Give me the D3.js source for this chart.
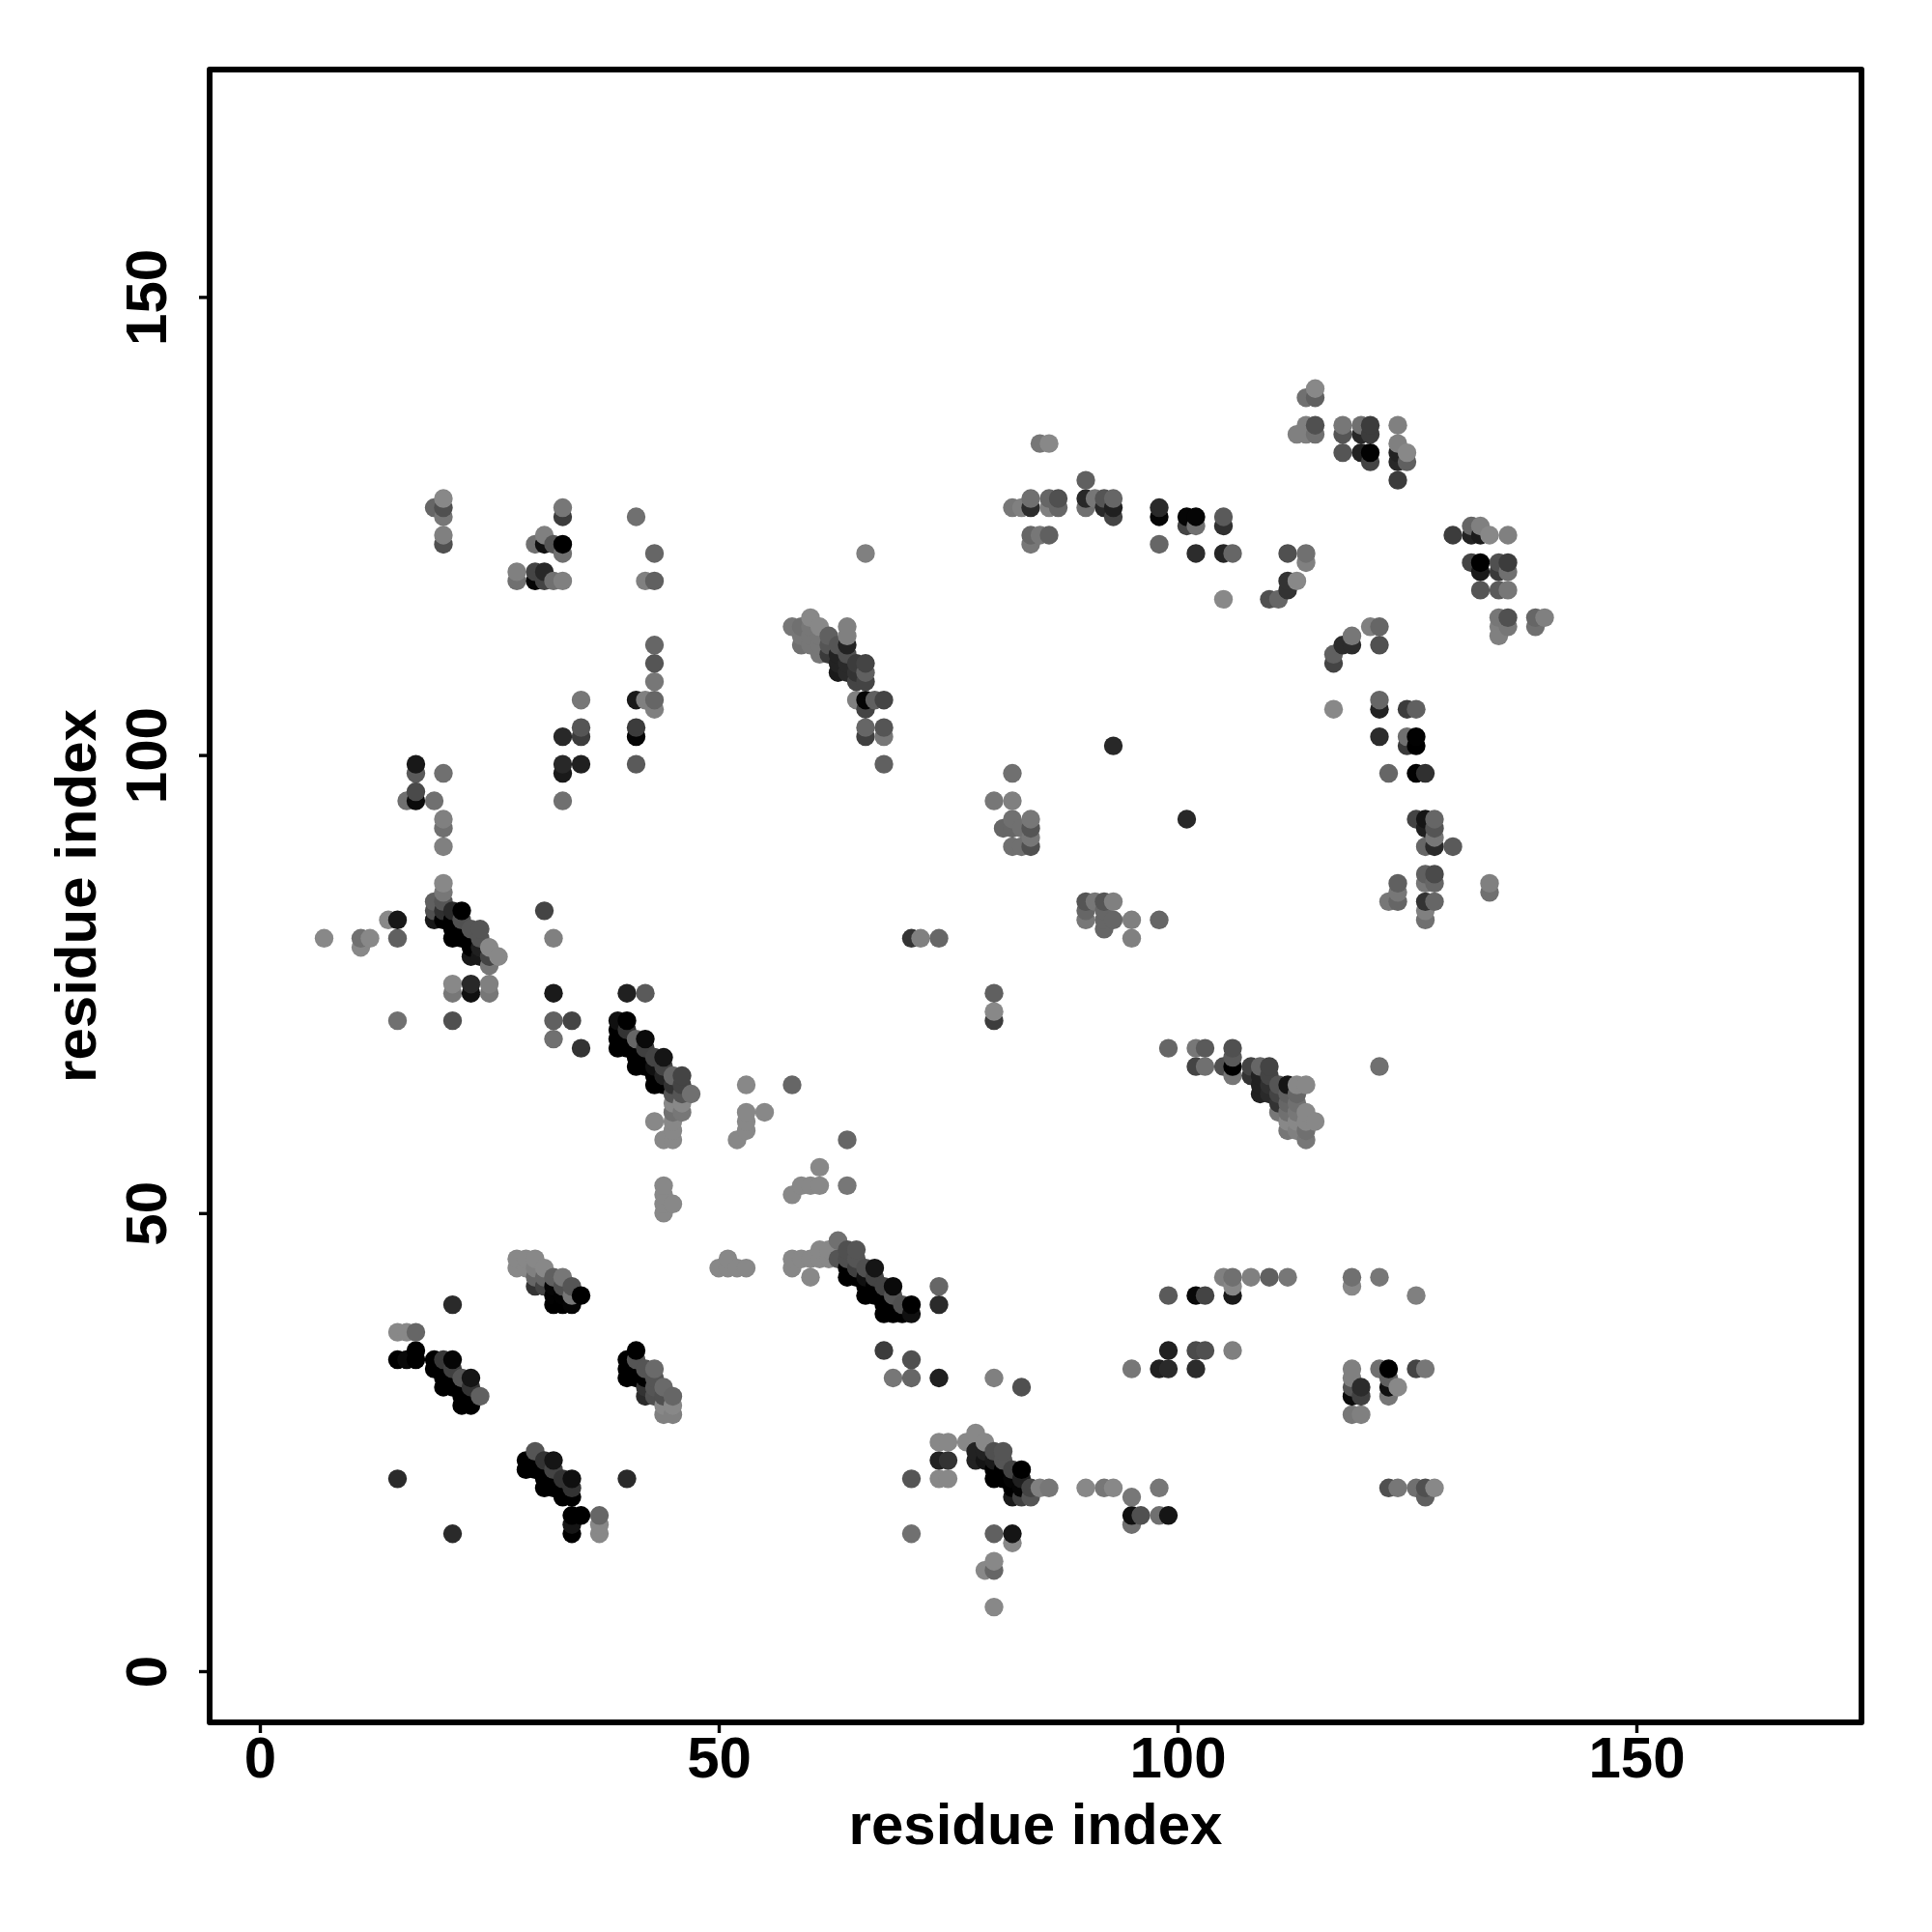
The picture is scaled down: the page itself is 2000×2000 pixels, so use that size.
<!DOCTYPE html>
<html><head><meta charset="utf-8">
<script src="https://cdnjs.cloudflare.com/ajax/libs/d3/7.8.5/d3.min.js"></script>
<style>html,body{margin:0;padding:0;background:#fff}svg{display:block}</style>
</head><body><div id="chart"></div>
<script>
const xTicks=[0,50,100,150];
const yTicks=[0,50,100,150];
const xTitle="residue index";
const yTitle="residue index";
// [residue i, residue j, shade value: 0 = strongest contact, 136 = weakest]
const L=0x88;
const blockLowLeft=[
[21,40,0x2a],[28,45,L],[29,45,L],[30,45,L],[28,44,L],[29,44,L],[30,44,0x80],[31,44,L],[30,43,0x66],[31,43,0x66],[32,43,0x60],[33,43,0x77],
[30,42,0x33],[31,42,0x44],[32,42,0x05],[33,42,0x50],[34,42,0x55],[32,41,0x02],[33,41,0x02],[34,41,0x77],[35,41,0x00],[32,40,0],[33,40,0],[34,40,0x05],
[15,37,L],[16,37,L],[17,37,0x66],[15,34,0],[16,34,0x0a],[17,34,0],[17,35,0],
[19,34,0],[20,34,0x38],[21,34,0x05],[19,33,0],[20,33,0],[21,33,0x40],[20,32,0],[21,32,0],[22,32,0x55],[23,32,0x15],[20,31,0],[21,31,0],[22,31,0],[23,31,0x33],[22,30,0],[23,30,0],[24,30,0x60],[22,29,0],[23,29,0],
[41,35,0],[40,34,0],[41,34,0x55],[40,33,0],[41,33,0],[42,33,0x55],[43,33,0x6a],[40,32,0],[41,32,0],[42,32,0],[43,32,0x55],[42,31,0x33],[43,31,0x55],[44,31,0x6a],[42,30,0x2a],[43,30,0x50],[44,30,0x50],[45,30,0x66],[44,29,L],[45,29,L],[44,28,0x80],[45,28,0x80],
[30,24,0x55],[29,23,0],[30,23,0],[31,23,0x33],[32,23,0x15],[29,22,0],[30,22,0],[31,22,0],[32,22,0x44],[31,21,0],[32,21,0],[33,21,0x33],[34,21,0x0f],[31,20,0],[32,20,0],[33,20,0],[34,20,0x33],[33,19,0],[34,19,0],
[34,17,0],[35,17,0],[34,16,0x15],[34,15,0],[37,17,0x66],[37,16,L],[37,15,L],[15,21,0x2a],[40,21,0x2a],[21,15,0x2a]
];
const blockLowMiddle=[
[44,50,L],[44,51,L],[45,51,L],[44,52,L],[44,53,L],[51,45,L],[50,44,L],[51,44,L],[52,44,L],[53,44,L],
[58,45,L],[59,45,L],[60,45,L],[58,44,L],[60,43,L],[61,46,L],[62,46,L],[61,45,L],[62,45,L],[63,47,0x70],[63,45,0x55],[64,46,0x50],[65,46,0x55],[64,45,0x50],[65,45,0x55],
[64,44,0],[65,44,0x40],[66,44,0x50],[67,44,0x15],[64,43,0],[65,43,0],[66,43,0x10],[67,43,0x44],[66,42,0],[67,42,0],[68,42,0x44],[69,42,0x0a],[66,41,0],[67,41,0],[68,41,0],[69,41,0x55],[68,40,0],[69,40,0],[70,40,0x50],[71,40,0],[68,39,0],[69,39,0],[70,39,0],[71,39,0x10],
[74,42,0x66],[74,40,0x2a],[68,35,0x3c],[71,34,0x50],[69,32,0x77],[71,32,0x66],[74,32,0x20],[80,32,0x80],[83,31,0x50],
[74,25,L],[75,25,L],[77,25,L],[78,26,L],[79,25,L],[74,23,0x22],[75,23,0x33],[74,21,L],[75,21,L],[71,21,0x55],[78,24,0x22],[79,24,0x22],[80,24,0x50],[81,24,0x55],[78,23,0x22],[79,23,0x15],[80,23,0x1a],[81,23,0x55],[80,22,0],[81,22,0],[82,22,0x44],[83,22,0],[80,21,0],[81,21,0],[82,21,0x05],[83,21,0x20],[82,20,0],[83,20,0x05],[84,20,0x44],[85,20,0x80],[86,20,0x77],[82,19,0x1a],[83,19,0x40],[84,19,0x55],
[90,20,L],[92,20,0x77],[93,20,L],[95,19,0x77],[98,20,0x77],[95,17,0x10],[96,17,0x50],[98,17,0x70],[99,17,0x15],[95,16,0x70],
[71,15,0x70],[80,15,0x60],[82,15,0x15],[82,14,L],[80,12,L],[79,11,L],[80,11,0x66],[80,7,L]
];
const blockLowRight=[
[105,43,0x80],[106,43,0x70],[108,43,0x80],[110,43,0x60],[112,43,0x77],[119,43,0x70],[119,42,L],[122,43,0x77],[126,41,0x80],[106,42,L],[106,41,0x1a],[99,41,0x5a],[102,41,0x08],[103,41,0x44],
[99,35,0x20],[102,35,0x4a],[103,35,0x50],[106,35,0x80],[95,33,0x77],[98,33,0x20],[99,33,0x2a],[102,33,0x2c],
[119,33,0x80],[119,32,0x80],[119,31,0x55],[120,31,0x2c],[119,30,0x0a],[120,30,0x40],[119,28,0x77],[120,28,0x80],[122,33,0x70],[123,33,0],[123,32,0x60],[123,31,0x10],[124,31,L],[123,30,0x77],[126,33,0x44],[127,33,0x77],
[123,20,0x50],[124,20,0x77],[126,20,0x70],[127,20,0x50],[128,20,L],[127,19,0x60]
];
const blockMidLeft=[
[7,80,L],[11,80,0x70],[12,80,L],[11,79,L],[14,82,L],[15,82,0x18],[15,80,0x60],
[20,86,L],[20,85,0x77],[19,84,0x60],[20,84,0x55],[19,83,0x50],[20,83,0x30],[21,83,0x2a],[22,83,0],[19,82,0x18],[20,82,0],[21,82,0],[22,82,0x50],[21,81,0],[22,81,0],[23,81,0x55],[24,81,0x55],[21,80,0],[22,80,0],[23,80,0],[24,80,0x55],
[25,79,L],[23,79,0],[24,79,0x20],[23,78,0x18],[24,78,0x18],[25,78,0x44],[26,78,L],[25,77,0x77],
[21,75,L],[21,74,0x77],[23,75,0x28],[23,74,0x10],[25,75,0x80],[25,74,0x77],[15,71,0x70],[21,71,0x50],
[31,83,0x44],[32,80,0x80],[32,74,0x1a],[32,71,0x60],[34,71,0x44],[32,69,0x70],[35,68,0x33],[40,74,0x20],[42,74,0x5a],
[39,71,0x10],[40,71,0],[39,70,0],[40,70,0x33],[41,69,0x66],[42,69,0x0a],[39,69,0],[40,69,0],[39,68,0],[40,68,0],[41,68,0],[42,68,0x40],[41,67,0],[42,67,0],[43,67,0x44],[44,67,0x15],[41,66,0],[42,66,0],[43,66,0x10],[44,66,0x44],[43,65,0],[44,65,0x22],[45,65,0x66],[46,65,0x44],[43,64,0],[44,64,0],[45,64,0x33],[46,64,0x44],[45,63,0x55],[46,63,0x55],[47,63,0x70],
[45,62,L],[46,62,L],[45,61,0x70],[46,61,0x77],[43,60,L],[45,60,L],[45,59,L],[44,58,L],[45,58,L],
[53,64,L],[53,61,L],[53,60,L],[53,59,L],[52,58,L],[55,61,L],[58,64,0x66],[58,52,L],[59,53,L],[60,53,L],[61,53,L],[61,55,L],[64,53,0x77],[64,58,0x66]
];
const blockMidRight=[
[80,74,0x60],[80,72,L],[80,71,0x3c],[99,68,0x66],[102,68,0x77],[103,68,0x5a],[106,68,0x50],[106,67,0x5a],[102,66,0x44],[103,66,0x70],[105,66,0x50],[106,66,0],[106,65,0x77],
[108,66,0x44],[109,66,0x66],[110,66,0x44],[108,65,0x33],[109,65,0x22],[110,65,0x44],[109,64,0x22],[110,64,0x30],[111,64,0x55],[112,64,0x15],[113,64,L],[114,64,L],[109,63,0x22],[110,63,0x2a],[111,63,0x44],[112,63,0x60],[113,63,0x66],
[111,62,0x33],[112,62,0x66],[113,62,0x70],[111,61,0x77],[112,61,0x70],[113,61,0x77],[114,61,L],[112,60,L],[113,60,L],[114,60,L],[115,60,L],[112,59,0x77],[113,59,0x80],[114,59,0x70],[114,58,0x77],[122,66,0x70],
[71,80,0x33],[72,80,0x80],[74,80,0x66]
];
const blockUpLeft=[
[20,128,L],[19,127,0x66],[20,127,0x50],[20,126,0x77],[20,124,0x80],[20,123,0x50],[33,127,0x77],[33,126,0x3c],[31,124,0x80],[30,123,0x70],[31,123,0x10],[32,123,0x55],[33,123,0],[33,122,0x70],
[28,120,0x80],[28,119,0x70],[30,120,0x44],[31,120,0x28],[30,119,0x05],[31,119,0x44],[32,119,0x70],[33,119,0x80],[41,126,0x70],[43,122,0x66],[42,119,0x80],[43,119,0x60],
[43,112,0x66],[43,110,0x55],[43,108,0x77],[43,106,0x66],[43,105,0x80],[42,106,0x80],[41,106,0x1a],[35,106,0x77],[35,103,0x55],[35,102,0x3c],[33,102,0x28],[33,99,0x28],[33,98,0x1a],[35,99,0x20],[33,95,0x70],[41,103,0x3c],[41,102,0x05],[41,99,0x5a],
[17,99,0x18],[17,98,0x5a],[20,98,0x70],[17,96,0x4a],[17,95,0x0a],[16,95,0x70],[19,95,0x70],[20,93,0x80],[20,92,0x70],[20,90,0x80]
];
const blockUpMiddle=[
[66,122,0x80],[60,115,L],[58,114,0x77],[59,114,0x70],[60,114,0x77],[61,114,L],[64,114,0x80],[59,113,0x77],[60,113,0x77],[61,113,0x77],[62,113,0x60],[64,113,0x80],[59,112,0x70],[60,112,0x77],[61,112,0x77],[62,112,0x55],[63,112,0x55],[64,112,0x22],[61,111,0x77],[62,111,0x3a],[63,111,0x22],[64,111,0x50],[65,110,0x3c],[66,110,0x44],[63,110,0x22],[64,110,0x2a],[63,109,0x1a],[64,109,0x2a],[65,109,0x33],[66,109,0x60],[65,108,0x44],[66,108,0x44],
[65,106,0x80],[66,106,0x05],[67,106,0x60],[68,106,0x44],[66,105,0x44],[66,103,0x66],[68,103,0x55],[66,102,0x40],[68,102,0x77],[68,99,0x60],
[84,124,0x66],[85,124,0x77],[86,124,0x60],[84,123,0x77],[93,101,0x28],[82,98,0x70],[80,95,0x77],[82,95,0x80],[82,93,0x70],[84,93,0x77],[81,92,0x66],[82,92,0x66],[83,92,0x70],[84,92,0x55],[84,91,0x77],[82,90,0x70],[83,90,0x70],[84,90,0x50],[101,93,0x28],
[90,84,0x55],[91,84,0x77],[92,84,0x55],[93,84,0x80],[90,83,0x66],[90,82,0x77],[92,83,0x66],[92,82,0x66],[93,82,0x66],[95,82,0x80],[98,82,0x66],[92,81,0x66],[95,80,0x80]
];
const blockUpRight=[
[85,134,0x77],[86,134,L],[90,130,0x60],[82,127,0x77],[83,127,0x80],[84,128,0x70],[84,127,0x2c],[86,128,0x66],[87,128,0x50],[86,127,0x80],[87,127,0x66],[90,128,0x28],[91,128,0x77],[90,127,0x70],[92,128,0x55],[93,128,0x66],[92,127,0x28],[93,127,0x20],[93,126,0x44],
[98,127,0x2a],[98,126,0x05],[98,123,0x66],[101,126,0x05],[102,126,0x05],[101,125,0x44],[102,125,0x70],[105,126,0x5a],[105,125,0x30],[102,122,0x2c],[105,122,0x25],[106,122,0x66],[105,117,L],
[112,122,0x50],[114,122,0x70],[114,121,0x80],[112,119,0x33],[113,119,L],[112,118,0x33],[110,117,0x50],[111,117,0x66],
[115,140,L],[114,139,0x70],[115,139,0x60],[114,136,0x80],[115,136,0x50],[113,135,0x80],[114,135,0x80],[115,135,0x70],[118,136,0x77],[118,135,0x55],[118,133,0x55],[120,136,0x70],[121,136,0x3c],[120,135,0x28],[121,135,0x3c],[120,133,0x22],[121,133,0x02],[121,132,0x44],
[124,136,0x80],[124,134,0x80],[125,133,L],[124,133,0x22],[124,132,0x28],[125,132,0x60],[124,130,0x3c],
[130,124,0x3c],[132,125,0x66],[133,125,0x80],[132,124,0x22],[133,124,0x1a],[134,124,L],[136,124,0x80],[132,121,0x44],[133,121,0],[133,120,0x1a],[135,121,0x50],[136,121,0x3c],[135,120,0x3a],[136,120,0x70],[133,118,0x55],[135,118,0x5a],[136,118,0x77],
[135,115,0x77],[136,115,0x50],[136,114,0x77],[135,114,0x80],[135,113,0x80],[139,115,0x66],[140,115,0x80],[139,114,0x70],
[121,114,0x80],[122,114,0x66],[122,112,0x50],[119,113,0x77],[118,112,0x2c],[119,112,0x2c],[117,111,0x60],[117,110,0x44],
[117,105,L],[122,106,0x66],[122,105,0x22],[125,105,0x3c],[126,105,0x60],[122,102,0x2c],[125,102,0x70],[126,102,0x02],[125,101,0x3a],[126,101,0],[123,98,0x66],[126,98,0x02],[127,98,0x30],
[126,93,0x44],[127,93,0x15],[128,93,0x66],[127,92,0x1f],[128,92,0x55],[128,91,0x77],[127,90,0x66],[128,90,0x2a],[130,90,0x5a],[127,87,0x60],[128,87,0x4a],[127,86,0x77],[128,86,0x66],
[124,86,0x60],[124,85,0x77],[123,84,0x77],[124,84,0x66],[127,84,0x33],[128,84,0x66],[127,83,0x80],[127,82,0x70],[134,86,0x80],[134,85,0x70]
];
const contacts=[].concat(blockLowLeft,blockLowMiddle,blockLowRight,blockMidLeft,blockMidRight,blockUpLeft,blockUpMiddle,blockUpRight)
  .sort((a,b)=>d3.ascending(a[0],b[0])||d3.ascending(a[1],b[1]));

const W=2000,H=2000,box={l:217,r:1927,t:72,b:1783};
const x=d3.scaleLinear().domain([0,150]).range([269,1694]);
const y=d3.scaleLinear().domain([0,150]).range([1730,307.4]);
const shade=d3.scaleLinear().domain([0,136]).range(["#000000","#888888"]);
const font='"Liberation Sans",Arial,sans-serif';
const fontSize=60;
const svg=d3.select("#chart").append("svg").attr("width",W).attr("height",H);
svg.append("rect").attr("width",W).attr("height",H).attr("fill","#fff");

svg.append("g").selectAll("circle").data(contacts).join("circle")
  .attr("cx",d=>x(d[0])).attr("cy",d=>y(d[1])).attr("r",9.7)
  .attr("fill",d=>shade(d[2]));

svg.append("rect").attr("x",box.l).attr("y",box.t).attr("width",box.r-box.l).attr("height",box.b-box.t)
  .attr("fill","none").attr("stroke","#000").attr("stroke-width",6).attr("stroke-linejoin","round");

const gx=svg.append("g").attr("transform",`translate(0,${box.b})`)
  .call(d3.axisBottom(x).tickValues(xTicks).tickSize(11).tickPadding(0).tickFormat(d3.format("d")));
const gy=svg.append("g").attr("transform",`translate(${box.l},0)`)
  .call(d3.axisLeft(y).tickValues(yTicks).tickSize(11).tickPadding(0).tickFormat(d3.format("d")));
gx.select(".domain").remove();gy.select(".domain").remove();
svg.selectAll(".tick line").attr("stroke","#000").attr("stroke-width",3.4);
gx.selectAll("text").attr("y",57).attr("dy",null).attr("font-family",font).attr("font-weight",700).attr("font-size",fontSize).attr("fill","#000");
gy.selectAll(".tick text").attr("x",null).attr("y",null).attr("dy",null).attr("text-anchor","middle")
  .attr("transform","translate(-45,0) rotate(-90)")
  .attr("font-family",font).attr("font-weight",700).attr("font-size",fontSize).attr("fill","#000");

svg.append("text").attr("x",(box.l+box.r)/2).attr("y",1909).attr("text-anchor","middle")
  .attr("font-family",font).attr("font-weight",700).attr("font-size",fontSize).text(xTitle);
svg.append("text").attr("transform",`translate(99,${(box.t+box.b)/2}) rotate(-90)`).attr("text-anchor","middle")
  .attr("font-family",font).attr("font-weight",700).attr("font-size",fontSize).text(yTitle);
</script></body></html>
